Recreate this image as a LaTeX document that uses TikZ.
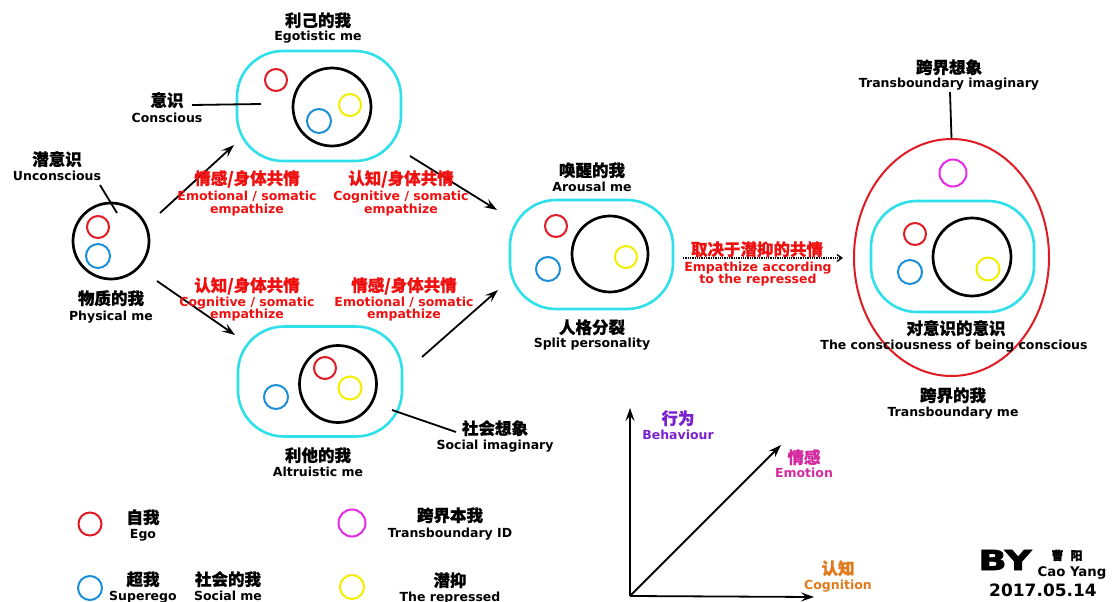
\documentclass[tikz,border=0pt]{standalone}
\usepackage{fontspec}
\setmainfont{DejaVu Sans}
\newfontfamily\cjk{Noto Sans CJK SC}[BoldFeatures={FakeBold=0.7}]
\newfontfamily\en{DejaVu Sans}
\newfontfamily\byfont{DejaVu Sans}[BoldFeatures={FakeBold=2.5}]
\usetikzlibrary{arrows.meta,shapes.geometric}
\definecolor{cy}{HTML}{2EE0EA}
\definecolor{rd}{HTML}{E01B24}
\definecolor{bl}{HTML}{1C8FD8}
\definecolor{ye}{HTML}{F2EE00}
\definecolor{mg}{HTML}{E62BE6}
\definecolor{rtext}{HTML}{EE1111}
\definecolor{pu}{HTML}{7A22D0}
\definecolor{ma}{HTML}{D42AA0}
\definecolor{orng}{HTML}{E07A1C}
\begin{document}
\begin{tikzpicture}[x=1pt,y=-1pt,
  cn/.style={anchor=base,inner sep=0pt,font=\cjk\bfseries\fontsize{16.5}{16.5}\selectfont},
  en/.style={anchor=base,inner sep=0pt,font=\en\bfseries\fontsize{12.5}{12.5}\selectfont},
  ring/.style={circle,draw,line width=2pt,inner sep=0pt},
  bigring/.style={circle,draw=black,line width=2.7pt,inner sep=0pt},
  stad/.style={rectangle,draw=cy,line width=2.6pt,rounded corners=46pt,minimum width=164pt,minimum height=110pt,inner sep=0pt},
  arr/.style={line width=1.8pt,-{Stealth[length=13pt,width=9pt,inset=5pt]}},
  lead/.style={line width=1.8pt}]
\fill[white] (0,0) rectangle (1114,602);
\useasboundingbox (0,0) rectangle (1114,602);

% ---------- Physical me ----------
\node[bigring,minimum size=76pt] (phys) at (111,241) {};
\node[ring,draw=rd,minimum size=22pt] (physR) at (98,227) {};
\node[ring,draw=bl,minimum size=24pt] (physB) at (98,256) {};
\node[cn] (physCN) at (111,304.5) {物质的我};
\node[en] (physEN) at (111,320) {Physical me};
\node[cn] (uncCN) at (57,165.5) {潜意识};
\node[en] (uncEN) at (57,180) {Unconscious};
\coordinate (unc1) at (100,185);
\coordinate (unc2) at (117,213);
\draw[lead] (unc1) -- (unc2);

% ---------- Egotistic me ----------
\node[stad] (ego) at (319,106) {};
\node[bigring,minimum size=78pt] (egoC) at (332,107) {};
\node[ring,draw=rd,minimum size=22pt] (egoR) at (276,80) {};
\node[ring,draw=ye,minimum size=22pt] (egoY) at (350,105) {};
\node[ring,draw=bl,minimum size=24pt] (egoB) at (319,121) {};
\node[cn] (egoCN) at (318,26.5) {利己的我};
\node[en] (egoEN) at (318,41) {Egotistic me};
\node[cn] (conCN) at (167,106.5) {意识};
\node[en] (conEN) at (167,122) {Conscious};
\coordinate (con1) at (192,105);
\coordinate (con2) at (261,104);
\draw[lead] (con1) -- (con2);

% ---------- Altruistic me ----------
\node[stad] (alt) at (320,381.5) {};
\node[bigring,minimum size=77pt] (altC) at (338,384) {};
\node[ring,draw=rd,minimum size=22pt] (altR) at (325,368) {};
\node[ring,draw=ye,minimum size=23pt] (altY) at (350,388) {};
\node[ring,draw=bl,minimum size=24pt] (altB) at (276,397) {};
\node[cn] (altCN) at (318,461.5) {利他的我};
\node[en] (altEN) at (318,476) {Altruistic me};
\coordinate (soc1) at (392,410);
\coordinate (soc2) at (456,432);
\draw[lead] (soc1) -- (soc2);
\node[cn] (socCN) at (495,434.5) {社会想象};
\node[en] (socEN) at (495,449) {Social imaginary};

% ---------- Arousal me ----------
\node[stad,minimum width=163pt,minimum height=109pt] (aro) at (591.5,254.5) {};
\node[bigring,minimum size=76pt] (aroC) at (610,254) {};
\node[ring,draw=rd,minimum size=22pt] (aroR) at (556,226) {};
\node[ring,draw=bl,minimum size=24pt] (aroB) at (548,269) {};
\node[ring,draw=ye,minimum size=22pt] (aroY) at (626,257) {};
\node[cn] (aroCN) at (592,176.5) {唤醒的我};
\node[en] (aroEN) at (592,191) {Arousal me};
\node[cn] (splCN) at (592,333.5) {人格分裂};
\node[en] (splEN) at (592,347) {Split personality};

% ---------- Transboundary me ----------
\node[ellipse,draw=rd,line width=2pt,minimum width=195pt,minimum height=237pt,inner sep=0pt] (tb) at (951.5,257.5) {};
\node[ring,draw=mg,minimum size=27pt] (tbM) at (953,173) {};
\node[stad,minimum width=163pt,minimum height=111pt] (tbS) at (952.5,256.5) {};
\node[bigring,minimum size=78pt] (tbC) at (972,257) {};
\node[ring,draw=rd,minimum size=22pt] (tbR) at (915,234) {};
\node[ring,draw=bl,minimum size=24pt] (tbB) at (910,272) {};
\node[ring,draw=ye,minimum size=23pt] (tbY) at (988,269) {};
\node[cn] (tbiCN) at (949,73.5) {跨界想象};
\node[en] (tbiEN) at (949,88) {Transboundary imaginary};
\coordinate (tbi1) at (950,92);
\draw[lead] (tbi1) -- (tb.north);
\node[cn] (cocCN) at (956,334.5) {对意识的意识};
\node[en] (cocEN) at (954,349) {The consciousness of being conscious};
\node[cn] (tbmCN) at (953,401.5) {跨界的我};
\node[en] (tbmEN) at (953,416) {Transboundary me};

% ---------- Arrows ----------
\coordinate (a1s) at (160,213); \coordinate (a1e) at (234,145);
\coordinate (a2s) at (410,156); \coordinate (a2e) at (497,210);
\coordinate (a3s) at (157,281); \coordinate (a3e) at (235,335);
\coordinate (a4s) at (422,357); \coordinate (a4e) at (498,290);
\draw[arr] (a1s) -- (a1e);
\draw[arr] (a2s) -- (a2e);
\draw[arr] (a3s) -- (a3e);
\draw[arr] (a4s) -- (a4e);

% red empathy labels
\begin{scope}[every node/.append style={text=rtext}]
\node[cn] (e1CN) at (247,184.5) {情感/身体共情};
\node[en] (e1EN) at (247,200) {Emotional / somatic};
\node[en] (e1EN2) at (247,213) {empathize};
\node[cn] (e2CN) at (401,184.5) {认知/身体共情};
\node[en] (e2EN) at (401,200) {Cognitive / somatic};
\node[en] (e2EN2) at (401,213) {empathize};
\node[cn] (e3CN) at (247,291.5) {认知/身体共情};
\node[en] (e3EN) at (247,306) {Cognitive / somatic};
\node[en] (e3EN2) at (247,318) {empathize};
\node[cn] (e4CN) at (404,291.5) {情感/身体共情};
\node[en] (e4EN) at (404,306) {Emotional / somatic};
\node[en] (e4EN2) at (404,318) {empathize};
\node[cn] (d1CN) at (757,255.5) {取决于潜抑的共情};
\node[en] (d1EN) at (758,271) {Empathize according};
\node[en] (d1EN2) at (758,283) {to the repressed};
\end{scope}
\coordinate (d1s) at (683,258); \coordinate (d1e) at (843,258);
\draw[line width=1.3pt,densely dotted,-{Straight Barb[length=5pt,width=7pt]}] (d1s) -- (d1e);

% ---------- Legend ----------
\node[ring,draw=rd,minimum size=23pt] (lgR) at (90,524) {};
\node[cn] (lgRCN) at (143,523.5) {自我};
\node[en] (lgREN) at (143,538) {Ego};
\node[ring,draw=bl,minimum size=24pt] (lgB) at (90,588) {};
\node[cn] (lgBCN) at (143,585.5) {超我};
\node[en] (lgBEN) at (143,600) {Superego};
\node[cn] (lgSCN) at (228,585.5) {社会的我};
\node[en] (lgSEN) at (228,600) {Social me};
\node[ring,draw=mg,minimum size=27pt] (lgM) at (352,523) {};
\node[cn] (lgMCN) at (450,521.5) {跨界本我};
\node[en] (lgMEN) at (450,537) {Transboundary ID};
\node[ring,draw=ye,minimum size=24pt] (lgY) at (352,587) {};
\node[cn] (lgYCN) at (450,586.5) {潜抑};
\node[en] (lgYEN) at (450,601) {The repressed};

% ---------- Chart ----------
\coordinate (o) at (630,596);
\coordinate (vy) at (630,408);
\coordinate (vx) at (814,597);
\coordinate (vd) at (781,445);
\draw[arr] (o) -- (vy);
\draw[arr] (o) -- (vx);
\draw[arr] (o) -- (vd);
\node[cn,text=pu] (behCN) at (678,424.5) {行为};
\node[en,text=pu] (behEN) at (678,439) {Behaviour};
\node[cn,text=ma] (emoCN) at (804,463.5) {情感};
\node[en,text=ma] (emoEN) at (804,477) {Emotion};
\node[cn,text=orng] (cogCN) at (838,574.5) {认知};
\node[en,text=orng] (cogEN) at (838,589) {Cognition};

% ---------- Signature ----------
\begin{scope}[shift={(1005,570)}]
\node[anchor=base,inner sep=0pt,font=\byfont\bfseries\fontsize{27.5}{27.5}\selectfont,xscale=1.35,transform shape] (by) at (0,0) {BY};
\end{scope}
\node[anchor=base,inner sep=0pt,font=\cjk\bfseries\fontsize{12}{12}\selectfont] (cy1) at (1067,560) {曹\hspace{7pt}阳};
\node[anchor=base,inner sep=0pt,font=\en\bfseries\fontsize{13.3}{13.3}\selectfont] (cy2) at (1072,576.5) {Cao Yang};
\node[anchor=base,inner sep=0pt,font=\en\bfseries\fontsize{17}{17}\selectfont] (date) at (1043,596.5) {2017.05.14};
\end{tikzpicture}
\end{document}
